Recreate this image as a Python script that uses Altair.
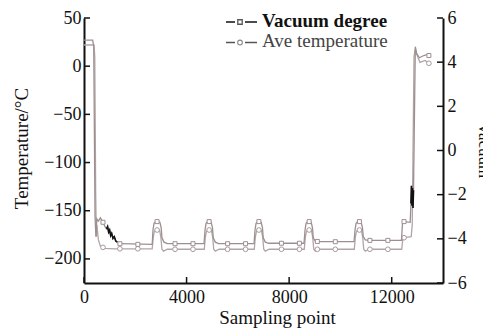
import altair as alt
import pandas as pd

# ---- data ----
vac_x = [0, 340, 380, 430, 465, 500, 560, 640, 740, 820, 880, 920, 960, 1000, 1040, 1080, 1130, 1180, 1240, 1300, 1400,
         2660, 2690, 2730, 2790, 2960, 3010, 3040, 3120, 3250,
         4680, 4720, 4760, 4820, 4960, 5010, 5040, 5120, 5250,
         6630, 6670, 6710, 6770, 6910, 6960, 6990, 7070, 7200,
         8580, 8620, 8660, 8720, 8860, 8910, 8940, 9020, 9150,
         10530, 10570, 10610, 10670, 10810, 10860, 10890, 10970, 11100,
         12380, 12420, 12500, 12720, 12750, 12770, 12790, 12810, 12830, 12850, 12920, 12970, 13080, 13250, 13400, 13500]
vac_v = [5.0, 5.0, 4.7, -3.0, -3.9, -3.1, -3.2, -3.05, -3.25, -3.45, -3.55, -3.45, -3.7, -3.6, -3.85, -3.75, -3.98, -3.9, -4.1, -4.15, -4.22,
         -4.25, -3.6, -3.3, -3.22, -3.25, -3.5, -3.95, -4.15, -4.22,
         -4.22, -3.6, -3.3, -3.22, -3.25, -3.5, -3.95, -4.15, -4.22,
         -4.22, -3.6, -3.3, -3.22, -3.25, -3.5, -3.95, -4.15, -4.2,
         -4.2, -3.6, -3.3, -3.22, -3.25, -3.5, -3.95, -4.1, -4.12,
         -4.13, -3.6, -3.3, -3.22, -3.25, -3.5, -3.9, -4.05, -4.07,
         -4.07, -3.3, -3.22, -3.25, -2.4, -1.6, -2.5, -1.7, -2.6, -1.8, 4.7, 4.4, 4.2, 4.3, 4.35, 4.25]

temp_x = [0, 390, 420, 455, 480, 505, 560, 640, 800, 1200,
          2660, 2700, 2740, 2800, 2950, 3000, 3040, 3100, 3250,
          4690, 4730, 4770, 4830, 4970, 5020, 5060, 5120, 5270,
          6640, 6680, 6720, 6780, 6920, 6970, 7010, 7070, 7220,
          8590, 8630, 8670, 8730, 8870, 8920, 8960, 9020, 9170,
          10540, 10580, 10620, 10680, 10820, 10870, 10910, 10970, 11120,
          12390, 12430, 12470, 12760, 12800, 12870, 12920, 12980, 13100, 13300, 13500]
temp_t = [22, 22, 10, -130, -177, -165, -180, -187, -189, -189.5,
          -189.5, -178, -172, -170, -170.5, -178, -190, -192, -190,
          -190, -178, -172, -170, -170.5, -178, -190, -192, -190,
          -190, -178, -172, -170, -170.5, -178, -190, -192, -190,
          -190, -178, -172, -170, -170.5, -178, -190, -192, -190,
          -190, -178, -172, -170, -170.5, -178, -190, -192, -190,
          -190, -180, -178, -177, -165, 10, 18, 12, 4, 6, 2]

marker_x = [740, 1400, 2100, 2850, 3550, 4250, 4880, 5600, 6300, 6820, 7700, 8400, 8780, 9100, 9800, 10740, 11150, 11850, 12480, 13450]
marker_vac = [-3.25, -4.22, -4.25, -3.22, -4.22, -4.22, -3.22, -4.22, -4.22, -3.22, -4.2, -4.2, -3.22, -4.12, -4.13, -3.22, -4.07, -4.07, -3.22, 4.3]
marker_temp = [-188, -189.5, -189.5, -170, -190, -190, -170, -190, -190, -170, -190, -190, -170, -190, -190, -170, -190, -190, -178, 3]

x_ticks = [0, 4000, 8000, 12000]
temp_ticks = [-200, -150, -100, -50, 0, 50]
vac_ticks = [-6, -4, -2, 0, 2, 4, 6]

# ---- tables ----
vac_df = pd.DataFrame({"x": vac_x, "v": vac_v})
temp_df = pd.DataFrame({"x": temp_x, "t": temp_t})
vac_mk = pd.DataFrame({"x": marker_x, "v": marker_vac})
temp_mk = pd.DataFrame({"x": marker_x, "t": marker_temp})
xt_df = pd.DataFrame({"x": x_ticks})
tt_df = pd.DataFrame({"t": temp_ticks})
vt_df = pd.DataFrame({"v": vac_ticks})
one = pd.DataFrame({"a": [0]})

W, H = 359, 265
FONT = "Liberation Serif"

x_scale = alt.Scale(domain=[0, 14000], nice=False, zero=False)
x_axis = alt.Axis(values=x_ticks, format="d", ticks=False, tickSize=0, grid=False,
                  domainColor="#111", domainWidth=2, labelFont=FONT, labelFontSize=18,
                  labelColor="#111", labelPadding=5, title="Sampling point",
                  titleFont=FONT, titleFontSize=19, titleFontWeight="normal", titleColor="#111",
                  titleX=193, titleY=40, titleBaseline="alphabetic", labelFlush=False)

t_scale = alt.Scale(domain=[-225, 50], nice=False, zero=False)
t_axis = alt.Axis(orient="left", values=temp_ticks, ticks=False, tickSize=0, grid=False,
                  domainColor="#111", domainWidth=2, labelFont=FONT, labelFontSize=18,
                  labelColor="#111", labelPadding=3,
                  labelExpr="datum.value < 0 ? '\u2212' + abs(datum.value) : datum.value",
                  title="Temperature/\u00b0C", titleFont=FONT, titleFontSize=19,
                  titleFontWeight="normal", titleColor="#111", titleAngle=-90,
                  titleX=-57, titleY=130, titleBaseline="alphabetic", titleAlign="center")

v_scale = alt.Scale(domain=[-6, 6], nice=False, zero=False)
v_axis = alt.Axis(orient="right", values=vac_ticks, ticks=False, tickSize=0, grid=False,
                  domainColor="#111", domainWidth=2, labelFont=FONT, labelFontSize=18,
                  labelColor="#111", labelPadding=4,
                  labelExpr="datum.value < 0 ? '\u2212' + abs(datum.value) : datum.value",
                  title="Vacuum", titleFont=FONT, titleFontSize=17,
                  titleFontWeight="normal", titleColor="#111", titleAngle=90,
                  titleX=35, titleY=132, titleBaseline="alphabetic", titleAlign="center")

X = alt.X("x:Q", scale=x_scale, axis=x_axis)
YT = alt.Y("t:Q", scale=t_scale, axis=t_axis)
YV = alt.Y("v:Q", scale=v_scale, axis=v_axis)

TEMP_COL = "#b3a5a5"
VAC_COL = "#9d8f8f"

temp_line = alt.Chart(temp_df).mark_line(color=TEMP_COL, strokeWidth=1.3, clip=True).encode(x=X, y=YT)
temp_pts = alt.Chart(temp_mk).mark_point(shape="circle", size=22, filled=True, fill="white",
                                         stroke="#a89a9a", strokeWidth=1, opacity=1).encode(x=X, y=YT)
left_ticks = alt.Chart(tt_df).mark_rule(color="#111", strokeWidth=1.5).encode(
    y=YT, x=alt.value(0), x2=alt.value(6))
bottom_ticks = alt.Chart(xt_df).mark_rule(color="#111", strokeWidth=1.5).encode(
    x=X, y=alt.value(H), y2=alt.value(H - 6))

# legend
leg_rules = alt.Chart(pd.DataFrame({"x1": [142, 161, 142, 161], "x2": [151, 173, 151, 173],
                                    "y": [4, 4, 24.5, 24.5], "c": ["#111", "#111", "#555", "#555"]})
                      ).mark_rule(strokeWidth=1.5).encode(
    x=alt.X("x1:Q", scale=None), x2="x2:Q", y=alt.Y("y:Q", scale=None),
    color=alt.Color("c:N", scale=None))
leg_sq = alt.Chart(one).mark_point(shape="square", size=20, filled=False, color="#111",
                                   strokeWidth=1.3).encode(x=alt.value(156), y=alt.value(4))
leg_ci = alt.Chart(one).mark_point(shape="circle", size=22, filled=False, color="#555",
                                   strokeWidth=1.1).encode(x=alt.value(156), y=alt.value(24.5))
leg_t1 = alt.Chart(one).mark_text(text="Vacuum degree", font=FONT, fontSize=19, fontWeight="bold",
                                  color="#111", align="left", baseline="alphabetic").encode(
    x=alt.value(178), y=alt.value(9))
leg_t2 = alt.Chart(one).mark_text(text="Ave temperature", font=FONT, fontSize=19,
                                  color="#444", align="left", baseline="alphabetic").encode(
    x=alt.value(178), y=alt.value(29))

vac_line = alt.Chart(vac_df).mark_line(color=VAC_COL, strokeWidth=1.3, clip=True).encode(x=X, y=YV)
vac_black = alt.Chart(vac_df).transform_filter(
    "(datum.x >= 860 && datum.x <= 1320) || (datum.x >= 12740 && datum.x <= 12860)"
).transform_calculate(seg="datum.x < 5000 ? 1 : 2").mark_line(
    color="#111", strokeWidth=1.6, clip=True).encode(x=X, y=YV, detail="seg:N")
vac_pts = alt.Chart(vac_mk).mark_point(shape="square", size=16, filled=True, fill="white",
                                       stroke="#9d8f8f", strokeWidth=1, opacity=1).encode(x=X, y=YV)
right_ticks = alt.Chart(vt_df).mark_rule(color="#111", strokeWidth=1.5).encode(
    y=YV, x=alt.value(W - 6), x2=alt.value(W))

left = alt.layer(temp_line, left_ticks, bottom_ticks, temp_pts)
right = alt.layer(vac_line, vac_black, vac_pts, right_ticks)

chart = alt.layer(left, right, leg_rules, leg_sq, leg_ci, leg_t1, leg_t2).resolve_scale(
    y="independent"
).properties(
    width=W, height=H,
    autosize=alt.AutoSizeParams(type="none"),
    padding={"left": 84, "top": 18, "right": 40, "bottom": 45},
    background="white",
).configure_view(stroke=None)

chart.save("out.html", embed_options={"renderer": "svg", "actions": False})
